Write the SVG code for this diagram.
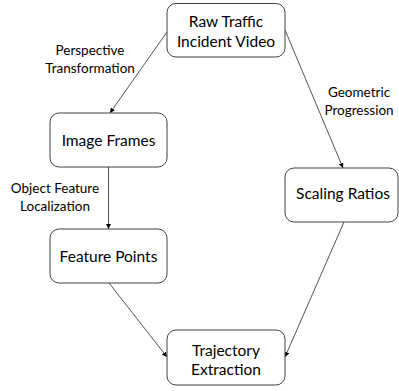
<svg xmlns="http://www.w3.org/2000/svg" width="399" height="391" viewBox="0 0 399 391">
<style>
.box{fill:#fff;stroke:#404040;stroke-width:1}
.nt{font-family:Lato,"Open Sans",sans-serif;font-size:15.5px;fill:#000;text-anchor:middle}
.lt{font-family:Lato,"Open Sans",sans-serif;font-size:13.5px;fill:#000;text-anchor:middle}
.edge{stroke:#404040;stroke-width:0.9;fill:none;marker-end:url(#ah)}
</style>
<defs>
<marker id="ah" viewBox="0 0 10 10" refX="10" refY="5" markerWidth="5" markerHeight="5" orient="auto" markerUnits="userSpaceOnUse">
<path d="M0,0 L10,5 L0,10 z" fill="#000"/>
</marker>
</defs>
<rect width="399" height="391" fill="#fff"/>
<g id="connectors">
<line class="edge" x1="167" y1="32" x2="110" y2="113"/>
<line class="edge" x1="285" y1="30" x2="343" y2="168"/>
<line class="edge" x1="108.5" y1="167" x2="108.5" y2="229"/>
<line class="edge" x1="109" y1="283" x2="167" y2="357"/>
<line class="edge" x1="344" y1="222" x2="285" y2="357"/>
<text class="lt" x="90" y="55">Perspective</text>
<text class="lt" x="90" y="73">Transformation</text>
<text class="lt" x="359" y="97">Geometric</text>
<text class="lt" x="359" y="115">Progression</text>
<text class="lt" x="55" y="193">Object Feature</text>
<text class="lt" x="55" y="211">Localization</text>
</g>
<g id="raw">
<rect class="box" x="167" y="3.5" width="118" height="53.5" rx="9"/>
<text class="nt" x="226" y="27">Raw Traffic</text>
<text class="nt" x="226" y="47">Incident Video</text>
</g>
<g id="frames">
<rect class="box" x="50" y="113" width="117" height="54" rx="9"/>
<text class="nt" x="108.5" y="146">Image Frames</text>
</g>
<g id="scaling">
<rect class="box" x="285" y="168" width="113" height="54" rx="9"/>
<text class="nt" x="343" y="199">Scaling Ratios</text>
</g>
<g id="points">
<rect class="box" x="50" y="229" width="117" height="54" rx="9"/>
<text class="nt" x="108.5" y="262">Feature Points</text>
</g>
<g id="trajectory">
<rect class="box" x="167" y="330" width="118" height="55" rx="9"/>
<text class="nt" x="226" y="356">Trajectory</text>
<text class="nt" x="226" y="375">Extraction</text>
</g>
</svg>
